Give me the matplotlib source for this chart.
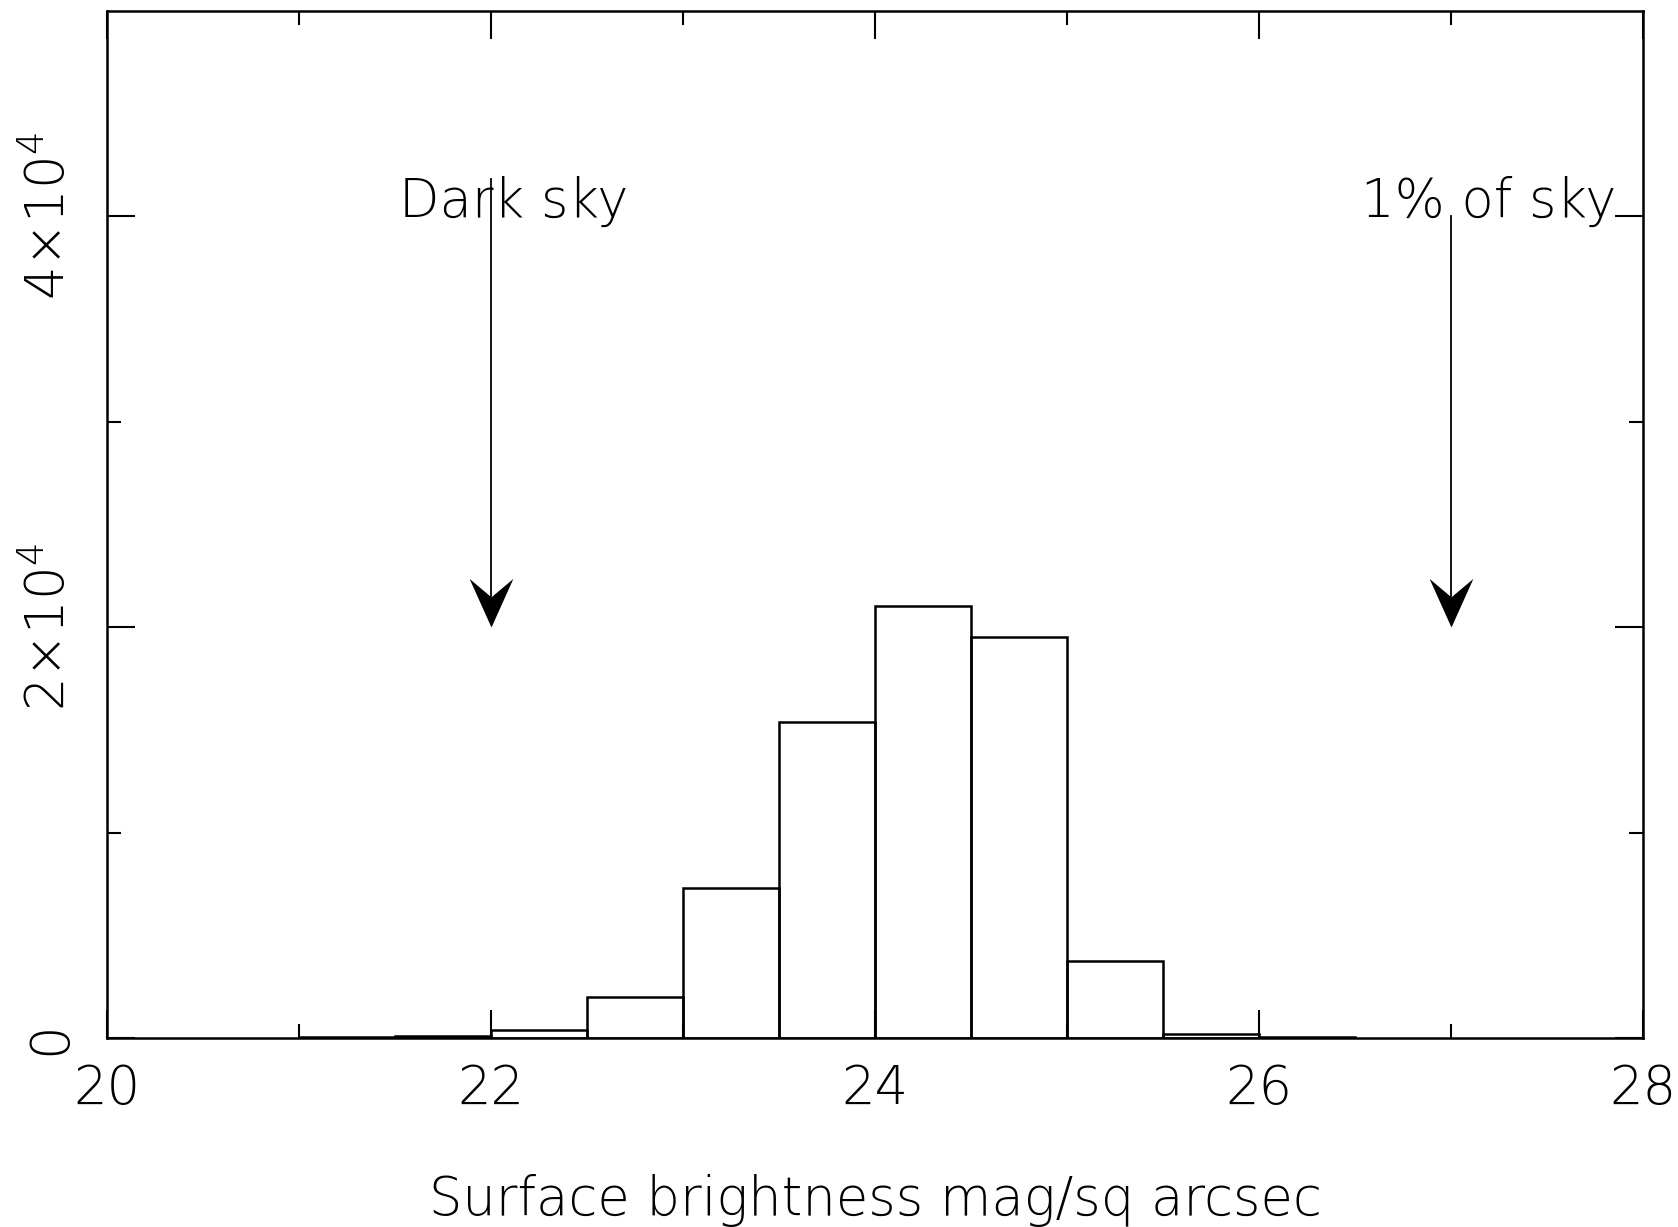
import numpy as np
import matplotlib
matplotlib.use('Agg')
import matplotlib.pyplot as plt
from matplotlib.path import Path

# Histogram of surface brightness (bin edges 21 .. 26.5, width 0.5)
bin_left = [21.0, 21.5, 22.0, 22.5, 23.0, 23.5, 24.0, 24.5, 25.0, 25.5, 26.0]
counts = [40, 120, 410, 2000, 7300, 15380, 21050, 19510, 3750, 215, 50]
bin_width = 0.5

# Arrow markers
arrow_x = [22, 27]
arrow_top = [41800, 40000]
arrow_tip = [20000, 20000]
arrow_text = ['Dark sky', '1% of sky']
text_x = [21.52, 26.53]
text_y = [40000, 40000]

plt.rcParams['font.family'] = ['DejaVu Sans']
plt.rcParams['font.weight'] = 'light'
plt.rcParams['axes.labelweight'] = 'light'
plt.rcParams['mathtext.fontset'] = 'dejavusans'
fs = 38

fig = plt.figure(figsize=(16.78, 12.27), dpi=100)
ax = fig.add_axes([0.0638, 0.154, 0.9154, 0.837])

ax.bar(bin_left, counts, width=bin_width, align='edge', fill=False,
       edgecolor='k', linewidth=1.8)

# arrows: shaft + notched head marker
head = Path([(0, 0), (-0.45, 1.0), (0, 0.62), (0.45, 1.0), (0, 0)],
            [Path.MOVETO, Path.LINETO, Path.LINETO, Path.LINETO, Path.CLOSEPOLY])
for xa, yt, yb in zip(arrow_x, arrow_top, arrow_tip):
    ax.plot([xa, xa], [yt, yb + 1500], color='k', linewidth=1.3)
    ax.plot([xa], [yb], marker=head, markersize=70, color='k', markeredgewidth=0)

for tx, ty, t in zip(text_x, text_y, arrow_text):
    ax.text(tx, ty, t, fontsize=fs, ha='left', va='baseline')

ax.set_xlim(20, 28)
ax.set_ylim(0, 50000)
ax.set_xticks([20, 22, 24, 26, 28])
ax.set_xticks([21, 23, 25, 27], minor=True)
ax.set_yticks([0, 20000, 40000])
ax.set_yticklabels(['0', r'$2{\times}10^4$', r'$4{\times}10^4$'])
ax.set_yticks([10000, 30000], minor=True)

ax.tick_params(which='both', direction='in', top=True, right=True, width=1.5)
ax.tick_params(which='major', length=20)
ax.tick_params(which='minor', length=10)
ax.tick_params(axis='x', labelsize=fs, pad=18)
ax.tick_params(axis='y', labelsize=fs, pad=22)
for lab in ax.get_yticklabels():
    lab.set_rotation(90)
    lab.set_va('center')

for s in ax.spines.values():
    s.set_linewidth(1.8)

ax.set_xlabel('Surface brightness mag/sq arcsec', fontsize=fs, labelpad=42)

fig.savefig('out.png', dpi=100)
